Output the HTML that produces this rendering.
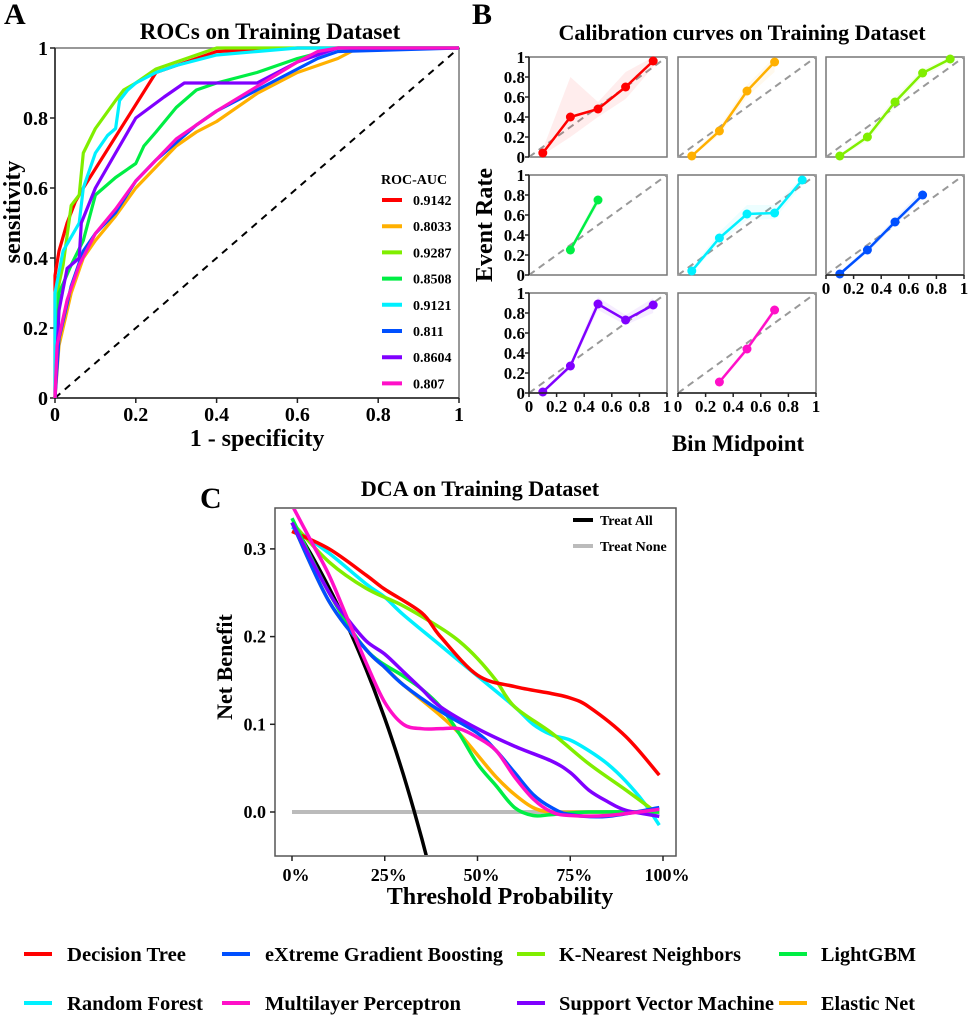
<!DOCTYPE html>
<html><head><meta charset="utf-8"><style>
html,body{margin:0;padding:0;background:#fff;}
svg{display:block;font-family:"Liberation Serif",serif;font-weight:bold;}
</style></head><body>
<svg id="chart" width="969" height="1016" viewBox="0 0 969 1016" xmlns="http://www.w3.org/2000/svg">
<rect x="0" y="0" width="969" height="1016" fill="#fff"/>
<text x="4" y="24" font-size="30">A</text>
<text x="270" y="39" font-size="23" text-anchor="middle">ROCs on Training Dataset</text>
<text x="257" y="446" font-size="24" text-anchor="middle">1 - specificity</text>
<text transform="translate(20,212) rotate(-90)" font-size="24" text-anchor="middle">sensitivity</text>
<text x="472" y="24" font-size="30">B</text>
<text x="742" y="40" font-size="22" text-anchor="middle">Calibration curves on Training Dataset</text>
<text x="738" y="451" font-size="23" text-anchor="middle">Bin Midpoint</text>
<text transform="translate(492,225) rotate(-90)" font-size="24" text-anchor="middle">Event Rate</text>
<text x="200" y="508" font-size="30">C</text>
<text x="480" y="496" font-size="22" text-anchor="middle">DCA on Training Dataset</text>
<text x="500" y="904" font-size="24" text-anchor="middle">Threshold Probability</text>
<text transform="translate(232,667) rotate(-90)" font-size="22" text-anchor="middle">Net Benefit</text>
</svg>
<script>
const svg=document.getElementById('chart');
const NS='http://www.w3.org/2000/svg';
function mk(tag,attrs){const e=document.createElementNS(NS,tag);for(const k in attrs)e.setAttribute(k,attrs[k]);svg.appendChild(e);return e;}

// ---------- shared data ----------
const modelNames=["Decision Tree","Elastic Net","K-Nearest Neighbors","LightGBM","Random Forest","eXtreme Gradient Boosting","Support Vector Machine","Multilayer Perceptron"];
const modelColors=["#ff0000","#ffb000","#80ee00","#00ee44","#00f0ff","#0050ff","#8000ff","#ff10c8"];

// ---------- ROC data ----------
const rocAUC=["0.9142","0.8033","0.9287","0.8508","0.9121","0.811","0.8604","0.807"];
const rocFPR=[
[0,0,0.01,0.03,0.05,0.07,0.25,0.4,0.6,1],
[0,0.01,0.04,0.07,0.1,0.15,0.2,0.25,0.3,0.35,0.4,0.5,0.6,0.7,0.75,1],
[0,0.005,0.02,0.04,0.06,0.07,0.1,0.15,0.17,0.2,0.25,0.3,0.4,1],
[0,0.01,0.04,0.07,0.1,0.15,0.2,0.22,0.25,0.3,0.35,0.4,0.5,0.6,0.7,1],
[0,0,0.02,0.05,0.06,0.07,0.1,0.13,0.15,0.16,0.18,0.2,0.25,0.3,0.4,0.5,0.6,1],
[0,0.01,0.04,0.07,0.1,0.15,0.2,0.25,0.3,0.35,0.4,0.5,0.6,0.65,0.7,1],
[0,0.01,0.03,0.06,0.065,0.1,0.15,0.2,0.27,0.32,0.5,0.6,0.7,1],
[0,0.005,0.03,0.06,0.1,0.15,0.2,0.25,0.3,0.35,0.4,0.5,0.6,0.65,0.7,1]];
const rocTPR=[
[0,0.35,0.42,0.5,0.56,0.6,0.93,0.99,1,1],
[0,0.15,0.3,0.4,0.45,0.52,0.6,0.66,0.72,0.76,0.79,0.87,0.93,0.97,1,1],
[0,0.3,0.38,0.55,0.58,0.7,0.77,0.85,0.88,0.9,0.94,0.96,1,1],
[0,0.3,0.38,0.45,0.58,0.63,0.67,0.72,0.76,0.83,0.88,0.9,0.93,0.97,1,1],
[0,0.3,0.42,0.48,0.5,0.6,0.7,0.75,0.77,0.85,0.88,0.9,0.93,0.95,0.98,0.99,1,1],
[0,0.17,0.32,0.42,0.47,0.53,0.62,0.68,0.73,0.78,0.82,0.88,0.94,0.97,0.99,1],
[0,0.25,0.37,0.4,0.5,0.6,0.7,0.8,0.86,0.9,0.9,0.96,1,1],
[0,0.15,0.28,0.38,0.47,0.54,0.62,0.68,0.74,0.78,0.82,0.89,0.96,0.99,1,1]];
const rocTicks=[0,0.2,0.4,0.6,0.8,1];
const rocTickLabels=["0","0.2","0.4","0.6","0.8","1"];

const ax=v=>55+v*404, ay=v=>398-v*350;
let r=mk('rect',{x:55,y:48,width:404,height:350,fill:'none',stroke:'#777','stroke-width':1.5});


let sp=mk('path',{d:`M55,48V398H459`,fill:'none',stroke:'#222','stroke-width':1.5});


rocTicks.forEach((t,i)=>{
  let tk=mk('path',{d:`M${ax(t)},398v5M55,${ay(t)}h-5`,stroke:'#222','stroke-width':1.5});
  
  
  let lx=mk('text',{x:ax(t),y:421,'font-size':20,'text-anchor':'middle'});lx.textContent=rocTickLabels[i];
  
  
  let ly=mk('text',{x:48,y:ay(t)+7,'font-size':20,'text-anchor':'end'});ly.textContent=rocTickLabels[i];
  
  
});
let diag=mk('line',{x1:ax(0),y1:ay(0),x2:ax(1),y2:ay(1),stroke:'#000','stroke-width':2,'stroke-dasharray':'7,6'});


rocFPR.forEach((xs,m)=>{
  const d=xs.map((x,i)=>(i?'L':'M')+ax(x).toFixed(1)+','+ay(rocTPR[m][i]).toFixed(1)).join('');
  let p=mk('path',{d,fill:'none',stroke:modelColors[m],'stroke-width':3.2,'stroke-linejoin':'round'});
  
  
});
let lt=mk('text',{x:381,y:184,'font-size':14});lt.textContent='ROC-AUC';


rocAUC.forEach((a,m)=>{
  const y=200+m*26.2;
  let l=mk('line',{x1:382,y1:y,x2:402,y2:y,stroke:modelColors[m],'stroke-width':4});
  
  
  let t=mk('text',{x:413,y:y+5,'font-size':14});t.textContent=a;
  
  
});

// ---------- Calibration data ----------
const calX=[
[0.1,0.3,0.5,0.7,0.9],[0.1,0.3,0.5,0.7],[0.1,0.3,0.5,0.7,0.9],[0.3,0.5],
[0.1,0.3,0.5,0.7,0.9],[0.1,0.3,0.5,0.7],[0.1,0.3,0.5,0.7,0.9],[0.3,0.5,0.7]];
const calY=[
[0.04,0.40,0.48,0.70,0.96],[0.01,0.26,0.66,0.95],[0.01,0.20,0.55,0.84,0.98],[0.25,0.75],
[0.04,0.37,0.61,0.62,0.95],[0.01,0.25,0.53,0.80],[0.01,0.27,0.89,0.73,0.88],[0.11,0.44,0.83]];
const calLow=[
[0.02,0.2,0.4,0.58,0.9],[0,0.22,0.6,0.85],[0,0.16,0.5,0.8,0.95],[0.22,0.7],
[0.02,0.32,0.55,0.56,0.9],[0,0.22,0.5,0.76],[0,0.24,0.83,0.68,0.8],[0.09,0.41,0.8]];
const calHigh=[
[0.08,0.8,0.55,0.85,1],[0.03,0.3,0.72,1],[0.03,0.24,0.6,0.88,1],[0.28,0.8],
[0.07,0.43,0.7,0.7,0.98],[0.03,0.28,0.57,0.85],[0.03,0.3,0.96,0.78,0.95],[0.13,0.47,0.86]];
const calTicks=[0,0.2,0.4,0.6,0.8,1];
const calTickLabels=["0","0.2","0.4","0.6","0.8","1"];
const colX=[529,678,826], rowY=[57,175,293], cw=138, ch=100;
for(let m=0;m<8;m++){
  const c=m%3,rw=Math.floor(m/3);
  const x0=colX[c],y0=rowY[rw];
  const sx=v=>x0+v*cw, sy=v=>y0+ch-v*ch;
  let f=mk('rect',{x:x0,y:y0,width:cw,height:ch,fill:'none',stroke:'#777','stroke-width':1.5});
  
  
  let dg=mk('line',{x1:sx(0),y1:sy(0),x2:sx(1),y2:sy(1),stroke:'#999','stroke-width':2,'stroke-dasharray':'7,5'});
  
  
  const xs=calX[m];
  const bd=xs.map((x,i)=>(i?'L':'M')+sx(x)+','+sy(calHigh[m][i])).join('')+xs.slice().reverse().map((x,j)=>{const i=xs.length-1-j;return 'L'+sx(x)+','+sy(calLow[m][i]);}).join('')+'Z';
  let b=mk('path',{d:bd,fill:modelColors[m],'fill-opacity':0.07,stroke:'none'});
  
  
  let ln=mk('path',{d:xs.map((x,i)=>(i?'L':'M')+sx(x)+','+sy(calY[m][i])).join(''),fill:'none',stroke:modelColors[m],'stroke-width':2.5});
  
  
  xs.forEach((x,i)=>{
    let d=mk('circle',{cx:sx(x),cy:sy(calY[m][i]),r:4.5,fill:modelColors[m]});
    
    
  });
  if(c===0){
    let s=mk('path',{d:`M${x0},${y0}V${y0+ch}`,stroke:'#222','stroke-width':1.5});
    
    
    calTicks.forEach((t,i)=>{
      let tk=mk('path',{d:`M${x0},${sy(t)}h-4`,stroke:'#222','stroke-width':1.5});
      
      
      let tl=mk('text',{x:x0-4,y:sy(t)+6,'font-size':17,'text-anchor':'end'});tl.textContent=calTickLabels[i];
      
      
    });
  }
  if(rw===2||(rw===1&&c===2)){
    let s=mk('path',{d:`M${x0},${y0+ch}H${x0+cw}`,stroke:'#222','stroke-width':1.5});
    
    
    calTicks.forEach((t,i)=>{
      let tk=mk('path',{d:`M${sx(t)},${y0+ch}v4`,stroke:'#222','stroke-width':1.5});
      
      
      let tl=mk('text',{x:sx(t),y:y0+ch+19,'font-size':17,'text-anchor':'middle'});tl.textContent=calTickLabels[i];
      
      
    });
  }
}

// ---------- DCA data ----------
const dcaP=[
[0,0.1,0.2,0.25,0.35,0.4,0.5,0.6,0.7,0.75,0.8,0.9,0.99],
[0,0.1,0.2,0.25,0.3,0.4,0.45,0.5,0.55,0.6,0.65,0.7,0.8,0.9,0.99],
[0,0.1,0.2,0.3,0.4,0.45,0.5,0.55,0.6,0.7,0.8,0.9,0.98],
[0,0.1,0.2,0.3,0.35,0.4,0.45,0.5,0.55,0.6,0.65,0.7,0.8,0.99],
[0,0.1,0.2,0.25,0.3,0.4,0.5,0.6,0.65,0.7,0.75,0.8,0.85,0.9,0.95,0.99],
[0,0.1,0.2,0.25,0.3,0.4,0.5,0.55,0.6,0.65,0.7,0.75,0.85,0.99],
[0,0.1,0.15,0.2,0.25,0.3,0.35,0.4,0.5,0.6,0.7,0.75,0.8,0.85,0.9,0.99],
[0,0.05,0.1,0.15,0.2,0.25,0.3,0.35,0.4,0.45,0.5,0.55,0.6,0.65,0.7,0.75,0.85,0.99]];
const dcaNB=[
[0.32,0.30,0.27,0.254,0.227,0.20,0.156,0.143,0.135,0.13,0.12,0.086,0.042],
[0.33,0.24,0.185,0.165,0.145,0.11,0.09,0.065,0.04,0.02,0.005,0,0,0,0],
[0.33,0.285,0.255,0.235,0.21,0.195,0.175,0.15,0.12,0.09,0.055,0.025,0],
[0.335,0.25,0.185,0.155,0.14,0.12,0.09,0.055,0.03,0.005,-0.004,-0.003,0,0],
[0.325,0.295,0.26,0.245,0.225,0.19,0.155,0.12,0.10,0.088,0.082,0.07,0.055,0.035,0.01,-0.015],
[0.33,0.24,0.185,0.165,0.145,0.115,0.09,0.07,0.045,0.02,0.005,-0.003,-0.005,0.005],
[0.33,0.25,0.22,0.195,0.18,0.16,0.14,0.12,0.095,0.075,0.058,0.045,0.025,0.012,0.002,-0.005],
[0.35,0.31,0.27,0.22,0.17,0.125,0.10,0.095,0.095,0.095,0.085,0.07,0.04,0.015,0,-0.004,-0.004,0.003]];
const dcaPrevalence=0.33;
const dcaXTicks=[0,0.25,0.5,0.75,1];
const dcaXTickLabels=["0%","25%","50%","75%","100%"];
const dcaYTicks=[0,0.1,0.2,0.3];
const dcaYTickLabels=["0.0","0.1","0.2","0.3"];
const dx=v=>292+v*371, dy=v=>812-v*877;
let df=mk('rect',{x:275,y:508,width:401,height:348,fill:'none',stroke:'#555','stroke-width':1.5});


dcaXTicks.forEach((t,i)=>{
  let tk=mk('path',{d:`M${dx(t)},856v5`,stroke:'#222','stroke-width':1.5});
  
  
  let tl=mk('text',{x:dx(t)+4,y:881,'font-size':18,'text-anchor':'middle'});tl.textContent=dcaXTickLabels[i];
  
  
});
dcaYTicks.forEach((t,i)=>{
  let tk=mk('path',{d:`M275,${dy(t)}h-5`,stroke:'#222','stroke-width':1.5});
  
  
  let tl=mk('text',{x:266,y:dy(t)+6,'font-size':18,'text-anchor':'end'});tl.textContent=dcaYTickLabels[i];
  
  
});
const cp=mk('clipPath',{id:'dcaclip'});
const cpr=document.createElementNS(NS,'rect');
cpr.setAttribute('x',276);cpr.setAttribute('y',509);cpr.setAttribute('width',399);cpr.setAttribute('height',346);
cp.appendChild(cpr);


let tn=mk('line',{x1:dx(0),y1:dy(0),x2:dx(0.99),y2:dy(0),stroke:'#bbb','stroke-width':4});


const taP=[];for(let p=0;p<=0.4001;p+=0.01)taP.push(p);
const ta=taP.map((p,i)=>(i?'L':'M')+dx(p).toFixed(1)+','+dy(dcaPrevalence-(1-dcaPrevalence)*p/(1-p)).toFixed(1)).join('');
let tal=mk('path',{d:ta,fill:'none',stroke:'#000','stroke-width':3.5,'clip-path':'url(#dcaclip)'});


function smooth(pts){let d='M'+pts[0][0]+','+pts[0][1];for(let i=0;i<pts.length-1;i++){const p0=pts[i-1]||pts[i],p1=pts[i],p2=pts[i+1],p3=pts[i+2]||p2;
d+=`C${p1[0]+(p2[0]-p0[0])/6},${p1[1]+(p2[1]-p0[1])/6} ${p2[0]-(p3[0]-p1[0])/6},${p2[1]-(p3[1]-p1[1])/6} ${p2[0]},${p2[1]}`;}return d;}
const dOrder=[4,2,0,1,3,5,6,7];
dOrder.forEach(m=>{
  const pts=dcaP[m].map((p,i)=>[dx(p),dy(dcaNB[m][i])]);
  let l=mk('path',{d:smooth(pts),fill:'none',stroke:modelColors[m],'stroke-width':3.5,'clip-path':'url(#dcaclip)'});
  
  
});
[["Treat All","#000",520],["Treat None","#bbb",546]].forEach(e=>{
  let l=mk('line',{x1:573,y1:e[2],x2:593,y2:e[2],stroke:e[1],'stroke-width':4});
  
  
  let t=mk('text',{x:600,y:e[2]+5,'font-size':14});t.textContent=e[0];
  
  
});

// ---------- bottom legend ----------
const legOrder=[0,5,2,3,4,7,6,1];
const legX=[24,222,517,779], legTX=[67,265,559,821], legY=[961,1010];
const legW=[119,238,182,95,136,196,215,94];
legOrder.forEach((m,k)=>{
  const c=k%4,rw=Math.floor(k/4);
  let l=mk('line',{x1:legX[c],y1:legY[rw]-7,x2:legX[c]+28,y2:legY[rw]-7,stroke:modelColors[m],'stroke-width':4});
  
  
  let t=mk('text',{x:legTX[c],y:legY[rw],'font-size':20,textLength:legW[k],lengthAdjust:'spacingAndGlyphs'});t.textContent=modelNames[m];
  
  
});
</script>
</body></html>
